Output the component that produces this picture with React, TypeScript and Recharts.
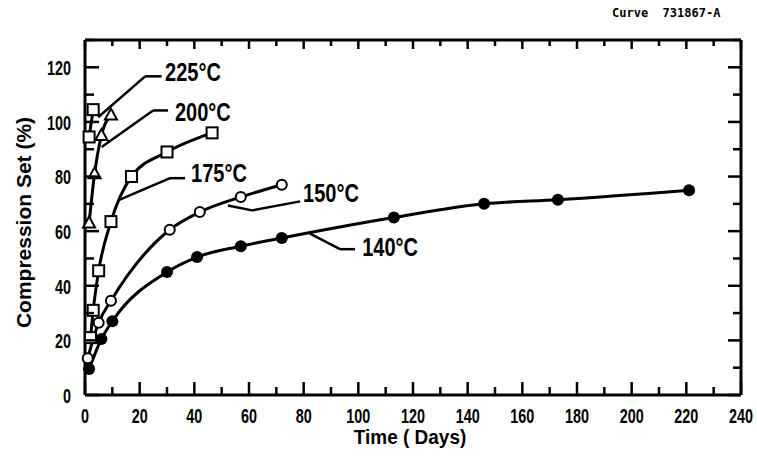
import React from "react";
import {
  LineChart,
  Line,
  XAxis,
  YAxis,
  ReferenceLine,
  ReferenceDot,
} from "recharts";

const dayTicks = [0, 10, 20, 30, 40, 50, 60, 70, 80, 90, 100, 110, 120, 130, 140, 150, 160, 170, 180, 190, 200, 210, 220, 230, 240];
const setTicks = [0, 10, 20, 30, 40, 50, 60, 70, 80, 90, 100, 110, 120, 130];

// compression set (%) against ageing time (days), one pair per temperature
const days140 = [1.5, 6, 10, 30, 41, 57, 72, 113, 146, 173, 221];
const set140 = [9.5, 20.5, 27, 45, 50.5, 54.5, 57.5, 65, 70, 71.5, 75];

const days150 = [1, 5, 9.5, 31, 42, 57, 72];
const set150 = [13.5, 26.5, 34.5, 60.5, 67, 72.5, 77];

const days175 = [2, 3, 5, 9.5, 17, 30, 46.5];
const set175 = [21, 31, 45.5, 63.5, 80, 89, 96];

const days200 = [1.5, 3.5, 6, 9.5];
const set200 = [63, 81, 95, 102.5];

const days225 = [1.5, 3];
const set225 = [94.5, 104.5];

const toPoints = (days: number[], set: number[]) =>
  days.map((day, i) => ({ day, set: set[i] }));

// leader lines (data coords) and where each temperature tag sits
const leaders = [
  { text: "225°C", path: [[4.8, 101.7], [22, 116.7], [28, 116.7]], at: [29.3, 118.2] },
  { text: "200°C", path: [[6.1, 90.8], [24.9, 104.2], [30.4, 104.2]], at: [32.9, 103.5] },
  { text: "175°C", path: [[12.1, 71.3], [31.1, 79.4], [36.6, 79.4]], at: [38.8, 81] },
  { text: "150°C", path: [[52.3, 69.4], [61.1, 67.6], [78.7, 70.9]], at: [79.8, 73.8] },
  { text: "140°C", path: [[82.3, 59.1], [93.3, 53.4], [98.8, 53.4]], at: [101.4, 54.1] },
];

const FONT = "'Liberation Sans', Arial, sans-serif";
const INK = "#000";

// bold text squeezed horizontally, like the condensed type of the lettering
function Narrow({ x, y, size, sx = 0.8, anchor = "start", rotate = 0, children }: any) {
  return (
    <g transform={`translate(${x},${y}) rotate(${rotate}) scale(${sx},1)`}>
      <text x={0} y={0} textAnchor={anchor} dominantBaseline="central"
        fontFamily={FONT} fontWeight="bold" fontSize={size} fill={INK}>
        {children}
      </text>
    </g>
  );
}

function BottomTick({ x, y, payload }: any) {
  const major = payload.value % 20 === 0;
  return (
    <g>
      <line x1={x} y1={y} x2={x} y2={y - (major ? 13 : 8)} stroke={INK} strokeWidth={2.5} />
      {major && <Narrow x={x} y={y + 21} size={20} sx={0.72} anchor="middle">{payload.value}</Narrow>}
    </g>
  );
}

function TopTick({ x, y, payload }: any) {
  const major = payload.value % 20 === 0;
  return <line x1={x} y1={y} x2={x} y2={y + (major ? 9 : 6)} stroke={INK} strokeWidth={2.5} />;
}

function LeftTick({ x, y, payload }: any) {
  const major = payload.value % 20 === 0;
  return (
    <g>
      <line x1={x} y1={y} x2={x + (major ? 14 : 9)} y2={y} stroke={INK} strokeWidth={2.5} />
      {major && <Narrow x={x - 14} y={y + 1} size={20} sx={0.72} anchor="end">{payload.value}</Narrow>}
    </g>
  );
}

function RightTick({ x, y, payload }: any) {
  const major = payload.value % 20 === 0;
  return <line x1={x} y1={y} x2={x - (major ? 13 : 8)} y2={y} stroke={INK} strokeWidth={2.5} />;
}

const filledDot = (p: any) => (
  <circle key={`f${p.index}`} cx={p.cx} cy={p.cy} r={6} fill={INK} />
);
const openDot = (p: any) => (
  <circle key={`o${p.index}`} cx={p.cx} cy={p.cy} r={5} fill="#fff" stroke={INK} strokeWidth={2} />
);
const squareDot = (p: any) => (
  <rect key={`s${p.index}`} x={p.cx - 5.5} y={p.cy - 5.5} width={11} height={11}
    fill="#fff" stroke={INK} strokeWidth={2} />
);
const triangleDot = (p: any) => (
  <path key={`t${p.index}`}
    d={`M${p.cx},${p.cy - 6.5} L${p.cx + 6},${p.cy + 4.5} L${p.cx - 6},${p.cy + 4.5} Z`}
    fill="#fff" stroke={INK} strokeWidth={2} />
);

const seriesList = [
  { id: "140", data: toPoints(days140, set140), dot: filledDot },
  { id: "150", data: toPoints(days150, set150), dot: openDot },
  { id: "175", data: toPoints(days175, set175), dot: squareDot },
  { id: "200", data: toPoints(days200, set200), dot: triangleDot },
  { id: "225", data: toPoints(days225, set225), dot: squareDot },
];

const axisLine = { stroke: INK, strokeWidth: 3 };

function XTitle({ viewBox }: any) {
  return (
    <Narrow x={viewBox.x + viewBox.width / 2 - 3} y={viewBox.y + 42} size={20} sx={0.95} anchor="middle">
      Time ( Days)
    </Narrow>
  );
}

function YTitle({ viewBox }: any) {
  return (
    <Narrow x={viewBox.x + 18} y={viewBox.y + viewBox.height / 2 + 5} size={21} sx={1} anchor="middle" rotate={-90}>
      Compression Set (%)
    </Narrow>
  );
}

export default function App() {
  return (
    <div style={{ position: "absolute", left: 0, top: 0, width: 757, height: 460, background: "#fff" }}>
      <div
        style={{
          position: "absolute",
          left: 612,
          top: 6,
          fontFamily: "'DejaVu Sans Mono', monospace",
          fontWeight: "bold",
          fontSize: 12,
          color: INK,
          whiteSpace: "pre",
        }}
      >
        Curve  731867-A
      </div>
      <LineChart width={757} height={460} margin={{ top: 39, right: 15, bottom: 10, left: 5 }}>
        <XAxis
          xAxisId="bottom"
          dataKey="day"
          type="number"
          domain={[0, 240]}
          ticks={dayTicks}
          interval={0}
          tickSize={0}
          tickMargin={0}
          tick={(p: any) => <BottomTick {...p} />}
          axisLine={axisLine}
          height={55}
          label={{ content: XTitle }}
        />
        <XAxis
          xAxisId="top"
          orientation="top"
          dataKey="day"
          type="number"
          domain={[0, 240]}
          ticks={dayTicks}
          interval={0}
          tickSize={0}
          tickMargin={0}
          tick={(p: any) => <TopTick {...p} />}
          axisLine={axisLine}
          height={1}
        />
        <YAxis
          yAxisId="left"
          type="number"
          domain={[0, 130]}
          ticks={setTicks}
          interval={0}
          tickSize={0}
          tickMargin={0}
          tick={(p: any) => <LeftTick {...p} />}
          axisLine={axisLine}
          width={80}
          label={{ content: YTitle }}
        />
        <YAxis
          yAxisId="right"
          orientation="right"
          type="number"
          domain={[0, 130]}
          ticks={setTicks}
          interval={0}
          tickSize={0}
          tickMargin={0}
          tick={(p: any) => <RightTick {...p} />}
          axisLine={axisLine}
          width={1}
        />
        {/* invisible twin of the 140 °C series so the mirrored frame axes get scales */}
        <Line
          xAxisId="top"
          yAxisId="right"
          data={seriesList[0].data}
          dataKey="set"
          stroke="none"
          dot={false}
          activeDot={false}
          legendType="none"
          isAnimationActive={false}
        />
        {leaders.map((l) =>
          l.path.slice(1).map((pt, i) => (
            <ReferenceLine
              key={`${l.text}-${i}`}
              xAxisId="bottom"
              yAxisId="left"
              segment={[
                { x: l.path[i][0], y: l.path[i][1] },
                { x: pt[0], y: pt[1] },
              ]}
              stroke={INK}
              strokeWidth={2.5}
              ifOverflow="visible"
            />
          ))
        )}
        {seriesList.map((s) => (
          <Line
            key={s.id}
            xAxisId="bottom"
            yAxisId="left"
            data={s.data}
            dataKey="set"
            type="monotone"
            stroke={INK}
            strokeWidth={3}
            dot={s.dot}
            activeDot={false}
            isAnimationActive={false}
          />
        ))}
        {leaders.map((l) => (
          <ReferenceDot
            key={l.text}
            xAxisId="bottom"
            yAxisId="left"
            x={l.at[0]}
            y={l.at[1]}
            ifOverflow="visible"
            shape={(p: any) => <Narrow x={p.cx} y={p.cy} size={25} sx={0.8}>{l.text}</Narrow>}
          />
        ))}
      </LineChart>
    </div>
  );
}
